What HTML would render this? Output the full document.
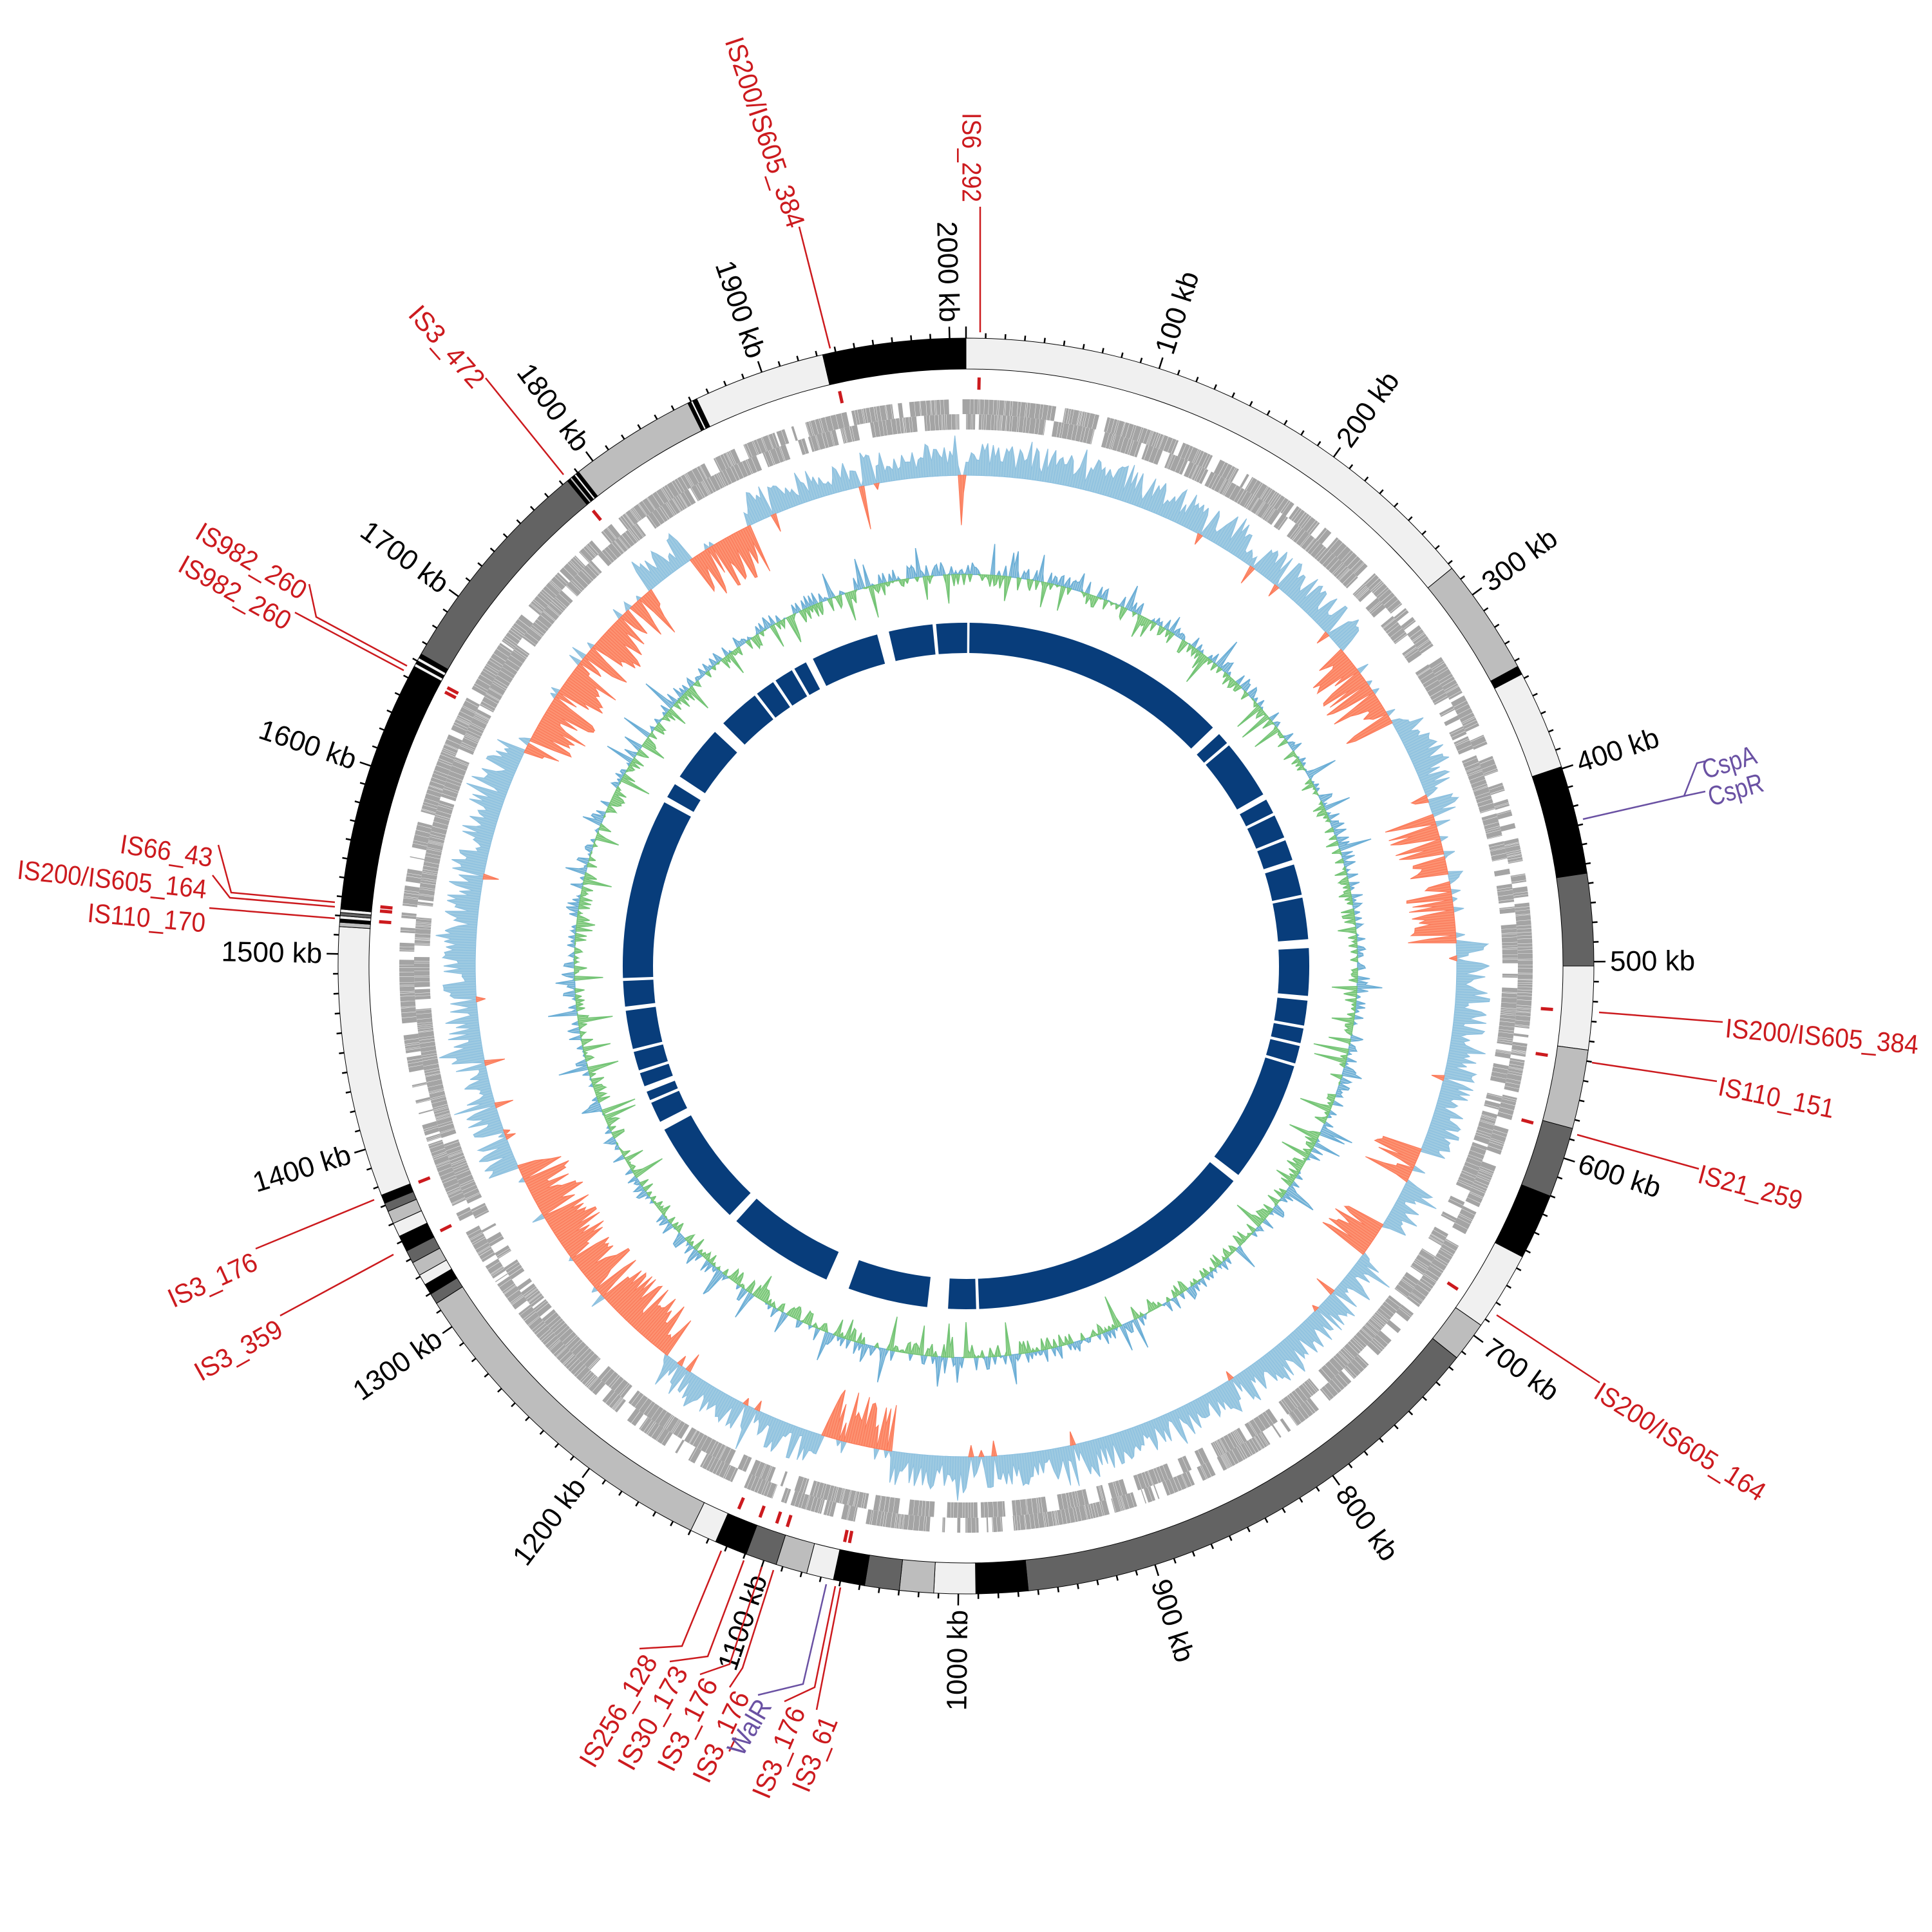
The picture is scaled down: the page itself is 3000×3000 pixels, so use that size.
<!DOCTYPE html>
<html><head><meta charset="utf-8">
<style>html,body{margin:0;padding:0;background:#fff}svg{display:block}</style>
</head><body>
<svg id="s" xmlns="http://www.w3.org/2000/svg" width="3000" height="3000" viewBox="0 0 3000 3000"></svg>
<script>
(function(){
var S=document.getElementById('s'),NS='http://www.w3.org/2000/svg';
var cx=1500,cy=1500,out=[];
function P(r,d){var a=d*Math.PI/180;return [cx+r*Math.sin(a),cy-r*Math.cos(a)];}
function f(n){return n.toFixed(1);}
function seg(r1,r2,a1,a2){var p1=P(r2,a1),p2=P(r2,a2),p3=P(r1,a2),p4=P(r1,a1),l=(a2-a1)>180?1:0;
return 'M'+f(p1[0])+' '+f(p1[1])+'A'+r2+' '+r2+' 0 '+l+' 1 '+f(p2[0])+' '+f(p2[1])+'L'+f(p3[0])+' '+f(p3[1])+'A'+r1+' '+r1+' 0 '+l+' 0 '+f(p4[0])+' '+f(p4[1])+'Z';}
var seed=12345;function rnd(){seed=(seed*1103515245+12345)%2147483648;return seed/2147483648;}
var A=[[0,0],[500,89.6],[1000,180.7],[1500,271.1],[2000,358.5],[2010,360]];
function kd(k){for(var i=1;i<A.length;i++){if(k<=A[i][0]){var a=A[i-1],b=A[i];return a[1]+(k-a[0])*(b[1]-a[1])/(b[0]-a[0]);}}return 360;}
var L='#f0f0f0',G='#bdbdbd',D='#636363',B='#000';
var C=[[0,50.7,L],[50.7,61.5,G],[61.5,62.3,B],[62.3,71.5,L],[71.5,81.5,B],[81.5,90,D],[90,97.7,L],[97.7,105,G],[105,111.5,D],[111.5,117.6,B],[117.6,124.9,L],[124.9,128.6,G],[128.6,174.3,D],[174.3,179.1,B],[179.1,182.95,L],[182.95,186.1,G],[186.1,189.3,D],[189.3,192.2,B],[192.2,194.7,L],[194.7,197.6,G],[197.6,200.5,D],[200.5,203.5,B],[203.5,206,L],[206,237.5,G],[237.5,238.5,D],[238.5,239.5,B],[239.5,240.5,L],[240.5,241.8,G],[241.8,243,D],[243,244.5,B],[244.5,245.8,L],[245.8,247,G],[247,247.8,D],[247.8,248.6,B],[248.6,273.6,L],[273.6,274.0,G],[274.0,274.3,B],[274.3,274.6,L],[274.6,274.9,D],[274.9,275.2,L],[275.2,276,B],[276,298.5,B],[298.5,298.8,L],[298.8,299.1,B],[299.1,299.4,L],[299.4,299.8,B],[299.8,320.6,D],[320.6,320.9,B],[320.9,321.1,G],[321.1,321.4,B],[321.4,321.6,L],[321.6,321.9,B],[321.9,333.7,G],[333.7,334.0,B],[334.0,334.2,L],[334.2,334.6,B],[334.6,346.8,L],[346.8,360,B]];
C.forEach(function(c){out.push('<path d="'+seg(927,975,c[0],c[1])+'" fill="'+c[2]+'" stroke="#000" stroke-width="1"/>');});
var tk='';for(var k=0;k<=2000;k+=10){var d=kd(k),len=(k%100==0)?18:8,a=P(975,d),b=P(975+len,d);tk+='M'+f(a[0])+' '+f(a[1])+'L'+f(b[0])+' '+f(b[1]);}
out.push('<path d="'+tk+'" stroke="#000" stroke-width="2.5" fill="none"/>');
for(var k=100;k<=2000;k+=100){var d=kd(k),p=P(1000,d),rot,anc;
 if(d<=180){rot=d-90;anc='start';}else{rot=d+90;anc='end';}
 out.push('<text x="'+f(p[0])+'" y="'+f(p[1])+'" transform="rotate('+f(rot)+' '+f(p[0])+' '+f(p[1])+')" text-anchor="'+anc+'" dominant-baseline="central" font-family="Liberation Sans,sans-serif" font-size="44" fill="#000">'+k+' kb</text>');}
['f','r'].forEach(function(t,i){var r1=i?833:857,r2=i?857:880,a=0,pth='';
 while(a<360){var l=0.06+rnd()*0.5;var g=rnd()<0.12?0.2+rnd()*1.2:0.03;if(a+l>360)l=360-a;pth+=seg(r1,r2,a,a+l);a+=l+g;}
 out.push('<path d="'+pth+'" fill="#a4a4a4"/>');});
var red=[[296,320],[326,334],[50,60],[72,79],[80,87],[112,116],[122,126],[189,197],[217,246],[-12.5,-11.8],[359.2,359.8]];
function isRed(d){for(var i=0;i<red.length;i++){var a=red[i][0],b=red[i][1];if(a<0){a+=360;b+=360;}if(d>=a&&d<=b)return true;}return false;}
var st=0.3,b0=762;
var vals=[];for(var d=0;d<360;d+=st){var v;if(isRed(d)){v=-(20+rnd()*60);if(rnd()<0.12)v=5+rnd()*20;}else{v=10+rnd()*42;if(rnd()<0.15)v+=rnd()*18;if(rnd()<0.025)v=-(8+rnd()*25);}vals.push([d,v]);}
function areaPath(arr,base,sc){var s='';for(var i=0;i<arr.length-1;i++){if(arr[i][1]==0&&arr[i+1][1]==0)continue;var d1=arr[i][0],d2=arr[i+1][0];var a=P(base,d1),b=P(base+arr[i][1]*sc,d1),c=P(base+arr[i+1][1]*sc,d2),e=P(base,d2);s+='M'+f(a[0])+' '+f(a[1])+'L'+f(b[0])+' '+f(b[1])+'L'+f(c[0])+' '+f(c[1])+'L'+f(e[0])+' '+f(e[1])+'Z';}return s;}
var pos=[],neg=[];vals.forEach(function(v){pos.push([v[0],Math.max(0,v[1])]);neg.push([v[0],Math.min(0,v[1])]);});
pos.push([360,pos[0][1]]);neg.push([360,neg[0][1]]);
out.push('<path d="'+areaPath(pos,b0,1)+'" fill="#9ecae1" stroke="#8cc0e0" stroke-width="1.2"/>');
out.push('<path d="'+areaPath(neg,b0,1)+'" fill="#fc9272" stroke="#fb7a5a" stroke-width="1.2"/>');
var g0=608,gp=[],gn=[];for(var d=0;d<360;d+=0.3){var v=(rnd()-0.5)*40;if(rnd()<0.08)v=(rnd()<0.5?1:-1)*(25+rnd()*30);gp.push([d,Math.max(0,v)]);gn.push([d,Math.min(0,v)]);}
gp.push([360,gp[0][1]]);gn.push([360,gn[0][1]]);
out.push('<path d="'+areaPath(gp,g0,1)+'" fill="#9ecae1" stroke="#6baed6" stroke-width="1.5"/>');
out.push('<path d="'+areaPath(gn,g0,1)+'" fill="#a1d99b" stroke="#74c476" stroke-width="1.5"/>');
var gaps=[[0.2,0.6],[-5.6,-5.0],[-15,-13],[-27.8,-26.5],[-30.5,-30],[-34.2,-33.7],[-38,-37.5],[-47,-45],[-58,-56.5],[-61.5,-60.5],[-92.5,-92],[-97.5,-96.8],[-104.5,-104],[-108.2,-107.7],[-111.5,-110.5],[-113.5,-113],[-118.5,-117],[-138,-136.5],[-160,-156],[-177,-173.5],[177.8,178.3],[127.5,128.8],[46,47.5],[49.5,50],[60,61],[63.5,64],[68,68.5],[72,72.8],[78,78.5],[85.5,87],[95,95.8],[100,100.5],[103,103.5],[106.5,107]];
gaps=gaps.map(function(g){return g[0]<0?[g[0]+360,g[1]+360]:g;}).sort(function(a,b){return a[0]-b[0];});
var ip='',cur=0;gaps.forEach(function(g){if(g[0]>cur)ip+=seg(486,533,cur,g[0]);cur=g[1];});if(cur<360)ip+=seg(486,533,cur,360);
out.push('<path d="'+ip+'" fill="#083d7b"/>');
var R='#cc1a1e',Pu='#6a51a3';
var labs=[
['IS6_292',1509,175,1509,314,R,[[1522,321],[1522,516]]],
['IS200/IS605_384',1139,59,1237,352,R,[[1241,352],[1289,541]]],
['IS3_472',643,480,745,596,R,[[754,587],[875,737]]],
['IS982_260',308,822,473,920,R,[[480,907],[491,958],[632,1034]]],
['IS982_260',281,873,449,967,R,[[458,951],[627,1041]]],
['IS66_43',187,1310,330,1332,R,[[339,1312],[359,1386],[520,1401]]],
['IS200/IS605_164',27,1350,321,1381,R,[[330,1359],[357,1394],[520,1408]]],
['IS110_170',136,1417,319,1433,R,[[325,1410],[520,1426]]],
['IS3_176',263,2018,397,1957,R,[[397,1939],[581,1863]]],
['IS3_359',305,2133,435,2060,R,[[435,2043],[611,1948]]],
['IS256_128',910,2740,1010,2573,R,[[993,2560],[1059,2556],[1120,2408]]],
['IS30_173',970,2745,1057,2590,R,[[1040,2580],[1099,2572],[1155,2423]]],
['IS3_176',1032,2747,1103,2608,R,[[1087,2600],[1133,2584],[1183,2433]]],
['IS3_176',1087,2765,1152,2628,R,[[1133,2620],[1153,2590],[1201,2438]]],
['WalR',1140,2722,1187,2642,Pu,[[1177,2632],[1247,2615],[1283,2460]]],
['IS3_176',1180,2790,1238,2652,R,[[1218,2642],[1265,2620],[1297,2463]]],
['IS3_61',1242,2780,1288,2667,R,[[1268,2655],[1305,2465]]],
['IS200/IS605_164',2480,2157,2738,2320,R,[[2324,2042],[2484,2147]]],
['IS21_259',2638,1822,2798,1865,R,[[2449,1762],[2638,1815]]],
['IS110_151',2669,1686,2848,1722,R,[[2472,1650],[2666,1679]]],
['IS200/IS605_384',2679,1596,2979,1622,R,[[2483,1572],[2675,1587]]],
['CspA',2644,1196,2726,1171,Pu,null],
['CspR',2653,1238,2737,1214,Pu,[[2458,1272],[2615,1236],[2635,1185],[2648,1182]]]
];
labs.forEach(function(l){var dx=l[3]-l[1],dy=l[4]-l[2],ang=Math.atan2(dy,dx)*180/Math.PI,len=Math.sqrt(dx*dx+dy*dy);
 out.push('<text x="'+l[1]+'" y="'+l[2]+'" transform="rotate('+f(ang)+' '+l[1]+' '+l[2]+')" dominant-baseline="central" textLength="'+f(len)+'" lengthAdjust="spacingAndGlyphs" font-family="Liberation Sans,sans-serif" font-size="42" fill="'+l[5]+'">'+l[0]+'</text>');
 if(l[6]){var pts=l[6].map(function(p){return p.join(',');}).join(' ');
  out.push('<polyline points="'+pts+'" fill="none" stroke="'+l[5]+'" stroke-width="2.5"/>');
  var e=l[6][l[6].length-1];if(l[5]==R){var d=Math.atan2(e[0]-cx,-(e[1]-cy))*180/Math.PI;var a=P(895,d),b=P(914,d);
  out.push('<line x1="'+f(a[0])+'" y1="'+f(a[1])+'" x2="'+f(b[0])+'" y2="'+f(b[1])+'" stroke="'+R+'" stroke-width="5"/>');}}
});
out.push('<line x1="2615" y1="1236" x2="2648" y2="1229" stroke="'+Pu+'" stroke-width="2.5"/>');
S.innerHTML=out.join('');
})();
</script>
</body></html>
